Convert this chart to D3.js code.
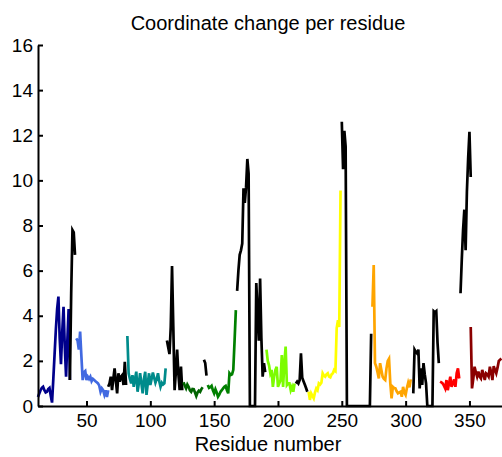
<!DOCTYPE html>
<meta charset="utf-8">
<style>

	body {
		margin: 0;
		background: #fff;
	}

	svg {
		display: block;
		font-family: "Liberation Sans", Arial, sans-serif;
	}

	.axis path,
	.axis line {
		stroke: #000;
		stroke-width: 2px;
	}

	.axis text {
		font-size: 19px;
		fill: #000;
	}

	.segs path {
		fill: none;
		stroke-width: 2.7px;
		stroke-linejoin: miter;
	}

</style>
<body>
	<script src="https://cdn.jsdelivr.net/npm/d3@7"></script>
	<script>

	// Residue ranges, each one drawn as its own line.
	// start = first residue number, one value per residue after that.
	var segStarts = [12, 37, 42, 67, 82, 113, 126, 142, 145, 168, 191, 214, 224, 250, 274, 306, 327, 343, 351];

	var segColors = ["#00008B", "#000000", "#4169E1", "#000000", "#008B8B", "#000000", "#006400", "#000000",
		"#008000", "#000000", "#7CFC00", "#000000", "#FFFF00", "#000000", "#FFA500", "#000000",
		"#FF0000", "#000000", "#8B0000"];

	var segValues = [
		// 12-37
		[0.4, 0.55, 0.7, 0.8, 0.85, 0.7, 0.6, 0.63, 0.75, 0.8, 0.45, 0.15, 1.2, 2.3, 3.4, 4.3, 4.85, 3.0, 1.85, 3.3, 4.4, 2.6, 1.3, 2.9, 4.3, 1.15],
		// 37-41
		[1.15, 5.0, 7.8, 7.7, 6.7],
		// 42-67
		[3.0, 2.9, 2.5, 3.3, 2.2, 1.15, 1.5, 1.55, 1.15, 1.3, 1.2, 1.3, 1.1, 1.2, 1.15, 1.1, 1.05, 1.0, 0.9, 0.63, 0.78, 0.7, 0.5, 0.7, 0.4, 0.7],
		// 67-81
		[0.85, 1.0, 1.3, 0.7, 1.2, 1.67, 1.1, 0.56, 1.45, 1.08, 1.3, 1.37, 0.93, 1.96, 0.93],
		// 82-112
		[3.1, 1.45, 1.2, 1.0, 1.37, 0.85, 1.2, 1.52, 0.63, 1.0, 1.45, 1.0, 0.56, 1.2, 1.52, 0.49, 1.0, 1.45, 0.93, 1.2, 1.48, 1.25, 1.03, 1.2, 1.45, 1.1, 0.85, 1.03, 0.95, 1.0, 1.67],
		// 113-125
		[2.9, 2.6, 2.3, 3.5, 6.2, 3.5, 0.7, 1.5, 2.5, 1.4, 0.7, 1.75, 0.7],
		// 126-141
		[1.05, 0.9, 0.78, 0.95, 0.85, 0.7, 0.63, 0.75, 0.74, 0.6, 0.44, 0.6, 0.68, 0.63, 0.75, 0.83],
		// 142-144
		[2.05, 1.9, 1.35],
		// 145-167
		[0.93, 0.8, 0.83, 0.89, 0.7, 0.56, 0.74, 0.6, 0.41, 0.5, 0.63, 0.7, 0.78, 0.85, 0.89, 0.7, 0.56, 1.45, 1.37, 1.4, 1.6, 2.9, 4.25],
		// 168-190 (zeros where residues are missing)
		[5.1, 6.0, 6.7, 6.9, 7.2, 9.65, 9.0, 9.7, 10.95, 10.3, 0, 0, 0, 0, 0, 5.45, 4.2, 2.9, 5.65, 3.0, 1.3, 1.9, 1.5],
		// 191-213
		[2.5, 2.0, 1.8, 1.45, 1.6, 0.85, 1.3, 1.6, 1.74, 0.85, 1.0, 1.15, 2.26, 0.85, 1.9, 2.63, 0.93, 1.0, 1.0, 0.7, 0.85, 0.63, 1.0],
		// 214-223
		[1.0, 1.08, 1.0, 1.15, 2.33, 1.25, 1.1, 0.95, 0.8, 0.63],
		// 224-249
		[0.63, 0.27, 0.56, 0.45, 0.34, 0.6, 0.78, 0.7, 1.0, 0.95, 1.03, 1.45, 1.35, 1.3, 1.4, 1.45, 1.3, 1.27, 1.4, 1.45, 1.6, 1.55, 3.45, 3.8, 3.5, 9.55],
		// 250-273
		[12.6, 10.5, 12.2, 11.5, 0, 0, 0, 0, 0, 0, 0, 0, 0, 0, 0, 0, 0, 0, 0, 0, 0, 0, 0, 3.2],
		// 274-304
		[4.4, 6.25, 1.9, 1.74, 1.5, 1.22, 1.9, 1.6, 1.3, 1.2, 1.15, 1.67, 2.0, 2.1, 1.0, 0.34, 0.85, 0.8, 0.78, 0.65, 0.56, 0.6, 0.63, 0.41, 0.85, 0.6, 0.49, 0.8, 1.03, 0.83, 1.18],
		// 306-326
		[0.56, 2.5, 2.4, 2.33, 2.5, 0.78, 1.67, 0.93, 1.9, 1.4, 1.0, 0, 0, 0, 0, 0, 4.2, 4.15, 4.2, 2.8, 1.9],
		// 327-342
		[1.08, 1.05, 1.0, 0.9, 0.78, 1.15, 0.7, 1.0, 1.3, 0.85, 1.0, 1.18, 0.85, 1.45, 1.67, 1.22],
		// 343-351
		[5.0, 6.5, 7.8, 8.7, 6.9, 9.5, 11.0, 12.15, 10.15],
		// 351-375
		[3.5, 0.78, 1.2, 1.74, 1.5, 1.3, 1.52, 1.3, 1.22, 1.6, 1.4, 1.15, 1.45, 1.4, 1.3, 1.74, 1.5, 1.15, 1.77, 1.6, 1.45, 1.7, 2.0, 2.05, 2.1]
	];

	var xTicks = [50, 100, 150, 200, 250, 300, 350];
	var yTicks = [0, 2, 4, 6, 8, 10, 12, 14, 16];

	var width = 502,
			height = 457;

	var margin = {top: 45, right: 0, bottom: 51, left: 38};

	var x = d3.scaleLinear()
			.domain([12, 375.5])
			.range([margin.left, width - margin.right]);

	var y = d3.scaleLinear()
			.domain([0, 16])
			.range([height - margin.bottom, margin.top]);

	var svg = d3.select("body").append("svg")
			.attr("width", width)
			.attr("height", height);

	// lines first, axes drawn on top like the original
	var line = d3.line()
			.x(function(d) { return x(d[0]); })
			.y(function(d) { return y(d[1]); });

	var segs = svg.append("g")
			.attr("class", "segs");

	segs.selectAll("path")
		.data(segValues.map(function(vals, i) {
			return {
				color: segColors[i],
				pts: vals.map(function(v, j) { return [segStarts[i] + j, v]; })
			};
		}))
		.enter()
		.append("path")
		.attr("stroke", function(d) { return d.color; })
		.attr("d", function(d) { return line(d.pts); });

	// ticks point inward
	svg.append("g")
			.attr("class", "axis")
			.attr("transform", "translate(0," + y(0) + ")")
			.call(d3.axisBottom(x).tickValues(xTicks).tickSizeInner(-5).tickSizeOuter(0).tickPadding(8))
			.selectAll("text")
			.attr("font-family", null);

	svg.append("g")
			.attr("class", "axis")
			.attr("transform", "translate(" + x(12) + ",0)")
			.call(d3.axisLeft(y).tickValues(yTicks).tickSizeInner(-5).tickSizeOuter(0).tickPadding(5))
			.selectAll("text")
			.attr("font-family", null);

	svg.selectAll(".axis").attr("font-family", null).attr("font-size", null);

	svg.append("text")
			.attr("x", 268)
			.attr("y", 30)
			.attr("text-anchor", "middle")
			.style("font-size", "20px")
			.text("Coordinate change per residue");

	svg.append("text")
			.attr("x", 268)
			.attr("y", 451)
			.attr("text-anchor", "middle")
			.style("font-size", "20px")
			.text("Residue number");

</script>
</body>
</html>
